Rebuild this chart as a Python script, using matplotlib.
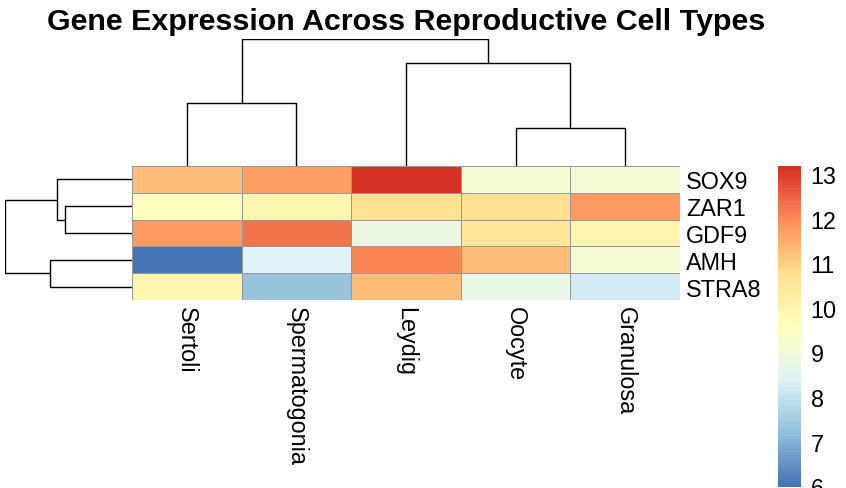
import numpy as np
import matplotlib
matplotlib.use("Agg")
import matplotlib.pyplot as plt
from matplotlib.colors import LinearSegmentedColormap

# data (rows/cols in displayed order)
genes = ["SOX9", "ZAR1", "GDF9", "AMH", "STRA8"]
cell_types = ["Sertoli", "Spermatogonia", "Leydig", "Oocyte", "Granulosa"]
sox9 = [11.27, 11.70, 13.18, 9.12, 9.12]
zar1 = [9.60, 10.00, 10.70, 10.75, 11.75]
gdf9 = [11.80, 12.26, 8.80, 10.58, 10.00]
amh = [5.98, 8.42, 12.05, 11.27, 9.10]
stra8 = [10.00, 7.29, 11.25, 8.77, 8.17]

# dendrograms: (left, right, relative height); leaves are indices in display order
row_links = [(1, 2, 0.525), (0, 5, 0.588), (3, 4, 0.644), (6, 7, 1.0)]
col_links = [(3, 4, 0.297), (0, 1, 0.495), (2, 5, 0.81), (6, 7, 1.0)]

cbar_ticks = [6, 7, 8, 9, 10, 11, 12, 13]

mat = np.array([sox9, zar1, gdf9, amh, stra8])
vmin, vmax = mat.min(), mat.max()

rdylbu7 = ["#4575B4", "#91BFDB", "#E0F3F8", "#FFFFBF", "#FEE090", "#FC8D59", "#D73027"]
cmap = LinearSegmentedColormap.from_list("rdylbu_rev", rdylbu7, N=100)

plt.rcParams["font.family"] = ["Liberation Sans", "DejaVu Sans"]
W, H = 846, 489
fig = plt.figure(figsize=(W / 100, H / 100), dpi=100)


def px_axes(left, top, right, bottom):
    return fig.add_axes([left / W, 1 - bottom / H, (right - left) / W, (bottom - top) / H])


def draw_dendro(ax, links, n, vertical):
    pos = {i: i + 0.5 for i in range(n)}
    hgt = {i: 0.0 for i in range(n)}
    for k, (a, b, h) in enumerate(links):
        xa, xb = pos[a], pos[b]
        xs = [xa, xa, xb, xb]
        ys = [hgt[a], h, h, hgt[b]]
        if vertical:
            ax.plot(xs, ys, color="black", lw=1.0, solid_capstyle="butt")
        else:
            ax.plot(ys, xs, color="black", lw=1.0, solid_capstyle="butt")
        pos[n + k] = (xa + xb) / 2
        hgt[n + k] = h
    ax.axis("off")


# heatmap
ax = px_axes(132, 167, 680, 301)
ax.pcolormesh(mat, cmap=cmap, vmin=vmin, vmax=vmax, edgecolors="#999999", linewidth=0.6)
ax.set_xlim(0, len(cell_types))
ax.set_ylim(len(genes), 0)
for s in ax.spines.values():
    s.set_visible(False)
ax.yaxis.tick_right()
ax.set_yticks(np.arange(len(genes)) + 0.5)
ax.set_yticklabels(genes, fontsize=16.8)
ax.set_xticks(np.arange(len(cell_types)) + 0.5)
ax.set_xticklabels(cell_types, fontsize=16.8, rotation=270, va="top", ha="center")
ax.tick_params(length=0)
ax.tick_params(axis="y", pad=4.3)
ax.tick_params(axis="x", pad=4)

# column dendrogram
axc = px_axes(132, 40, 680, 167)
draw_dendro(axc, col_links, len(cell_types), True)
axc.set_xlim(0, len(cell_types))
axc.set_ylim(0, 1.0)

# row dendrogram
axr = px_axes(5, 167, 132, 301)
draw_dendro(axr, row_links, len(genes), False)
axr.set_xlim(1.0, 0)
axr.set_ylim(len(genes), 0)

# colour legend
cax = px_axes(778, 167, 801, 488)
sm = plt.cm.ScalarMappable(cmap=cmap, norm=plt.Normalize(vmin, vmax))
cb = fig.colorbar(sm, cax=cax, ticks=cbar_ticks)
cb.outline.set_visible(False)
cax.tick_params(length=0, labelsize=16.8, pad=7)

fig.text(406 / W, 1 - 30 / H, "Gene Expression Across Reproductive Cell Types",
         fontsize=21.9, fontweight="bold", ha="center", va="baseline")

fig.savefig("out.png", dpi=100)
